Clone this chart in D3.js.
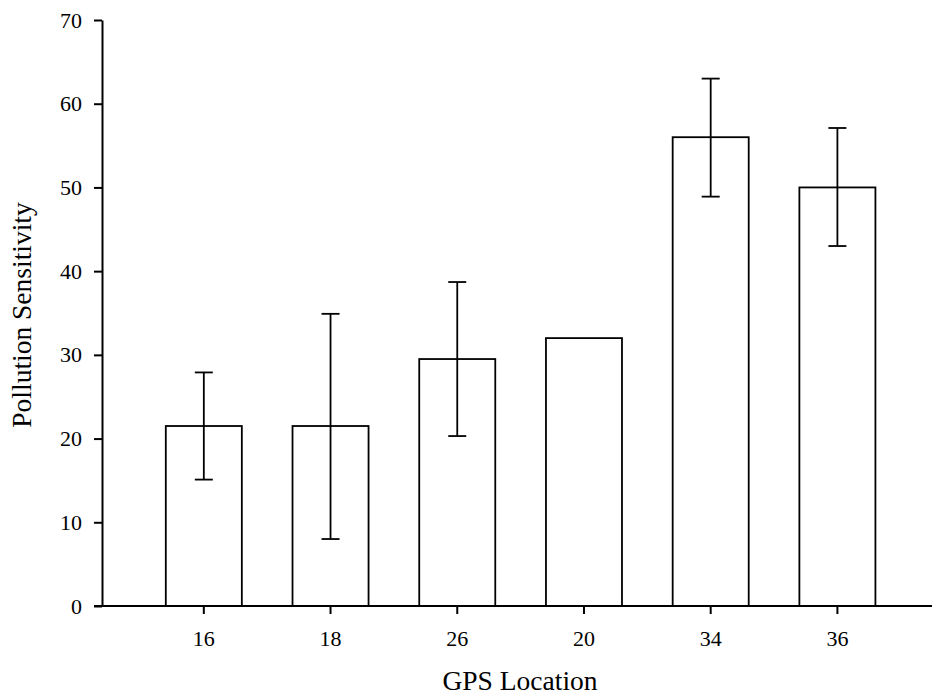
<!DOCTYPE html>
<html><head><meta charset="utf-8">
<script src="https://cdn.jsdelivr.net/npm/d3@7"></script>
<style>body{margin:0;background:#fff}svg{display:block}text{font-family:"Liberation Serif","Times New Roman",serif;fill:#000}</style>
</head><body>
<svg id="c" width="932" height="700"></svg>
<script>
const categories = ["16","18","26","20","34","36"];
const values = [21.5, 21.5, 29.5, 32, 56, 50];
const errLow = [15.1, 8.0, 20.3, null, 48.9, 43.0];
const errHigh = [27.9, 34.9, 38.7, null, 63.0, 57.1];
const yTicks = [0,10,20,30,40,50,60,70];

const svg = d3.select("#c");
const pL = 102, pR = 932, pT = 20, pB = 606;

const x = d3.scaleBand().domain(categories).range([pL, pR])
  .paddingInner(0.4).paddingOuter(0.475).align(0.53);
const y = d3.scaleLinear().domain([0,70]).range([pB, pT]);

const data = categories.map((c,i)=>({c, v:values[i], lo:errLow[i], hi:errHigh[i]}));

// bars
svg.append("g").selectAll("rect").data(data).join("rect")
  .attr("x", d=>x(d.c)).attr("y", d=>y(d.v))
  .attr("width", x.bandwidth()).attr("height", d=>y(0)-y(d.v))
  .attr("fill","#fff").attr("stroke","#000").attr("stroke-width",1.8);

// error bars
const eb = data.filter(d=>d.lo!=null);
const cx = d=>x(d.c)+x.bandwidth()/2;
const g = svg.append("g").attr("stroke","#000").attr("stroke-width",1.8);
g.selectAll(".v").data(eb).join("line").attr("x1",cx).attr("x2",cx)
  .attr("y1",d=>y(d.lo)).attr("y2",d=>y(d.hi));
g.selectAll(".h").data(eb).join("line").attr("x1",d=>cx(d)-9).attr("x2",d=>cx(d)+9)
  .attr("y1",d=>y(d.hi)).attr("y2",d=>y(d.hi));
g.selectAll(".l").data(eb).join("line").attr("x1",d=>cx(d)-9).attr("x2",d=>cx(d)+9)
  .attr("y1",d=>y(d.lo)).attr("y2",d=>y(d.lo));

// axes
const yAxis = svg.append("g").attr("transform",`translate(${pL},0)`)
  .call(d3.axisLeft(y).tickValues(yTicks).tickSize(8).tickPadding(12).tickSizeOuter(0));
const xAxis = svg.append("g").attr("transform",`translate(0,${pB})`)
  .call(d3.axisBottom(x).tickSize(8).tickPadding(16).tickSizeOuter(0));
[yAxis,xAxis].forEach(a=>{
  a.selectAll("path,line").attr("stroke","#000").attr("stroke-width",2);
  a.selectAll("text").attr("font-size",22).attr("font-family","Liberation Serif");
});
xAxis.select("path").attr("d",`M${pL-8},0H${pR}`);

svg.append("text").attr("x",(pL+pR)/2+3).attr("y",690).attr("text-anchor","middle")
  .attr("font-size",27.5).text("GPS Location");
svg.append("text").attr("transform",`translate(31,${(pT+pB)/2+2}) rotate(-90)`)
  .attr("text-anchor","middle").attr("font-size",27.5).text("Pollution Sensitivity");
</script>
</body></html>
